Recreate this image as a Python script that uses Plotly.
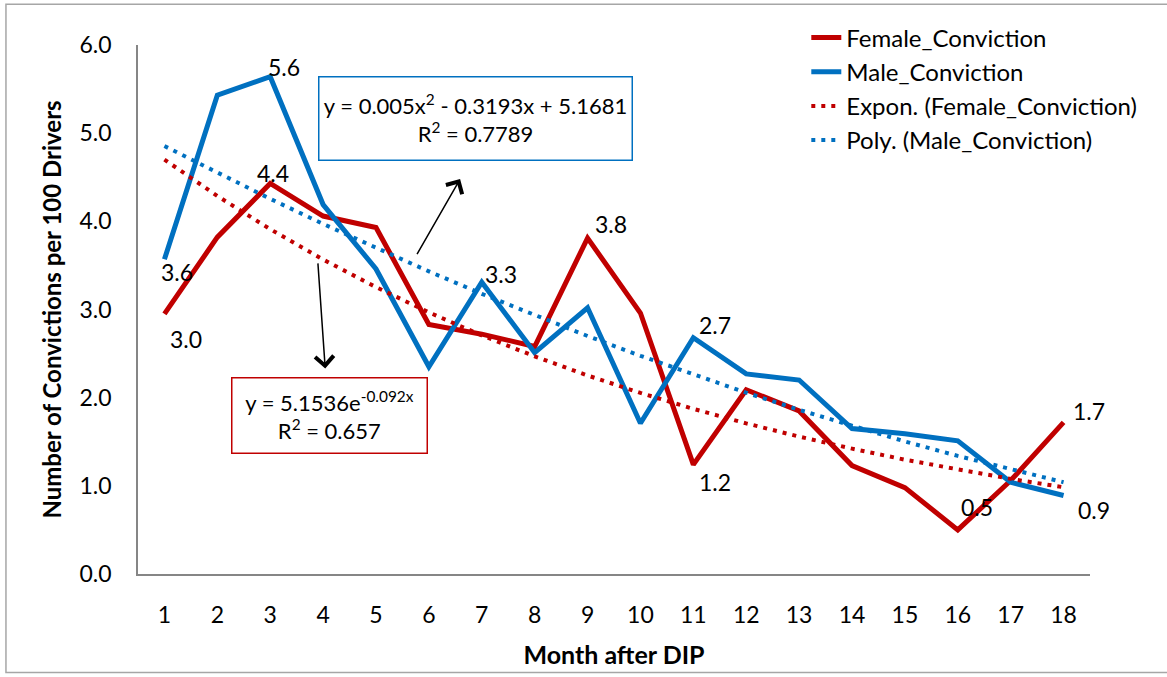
import numpy as np
import plotly.graph_objects as go

# ---- data ----
months = list(range(1, 19))
female_conviction = [2.95, 3.82, 4.43, 4.06, 3.93, 2.83, 2.72, 2.58, 3.81, 2.96,
                     1.24, 2.09, 1.85, 1.23, 0.98, 0.50, 1.06, 1.72]
male_conviction = [3.57, 5.43, 5.64, 4.19, 3.46, 2.35, 3.31, 2.51, 3.02, 1.71,
                   2.68, 2.27, 2.20, 1.65, 1.59, 1.51, 1.04, 0.89]

# trendline coefficients shown on the chart
exp_a, exp_b = 5.1536, -0.092
exp_r2 = 0.657
poly_c2, poly_c1, poly_c0 = 0.005, -0.3193, 5.1681
poly_r2 = 0.7789

y_ticks = [0, 1, 2, 3, 4, 5, 6]

RED = "#C00000"
BLUE = "#0070C0"
FONT = "Lato"

mx = np.array(months, dtype=float)
exp_trend = exp_a * np.exp(exp_b * mx)
poly_trend = poly_c2 * mx ** 2 + poly_c1 * mx + poly_c0

fig = go.Figure()
fig.add_trace(go.Scatter(x=months, y=female_conviction, mode="lines",
                         name="Female_Conviction",
                         line=dict(color=RED, width=5)))
fig.add_trace(go.Scatter(x=months, y=male_conviction, mode="lines",
                         name="Male_Conviction",
                         line=dict(color=BLUE, width=5)))
fig.add_trace(go.Scatter(x=months, y=exp_trend, mode="lines",
                         name="Expon. (Female_Conviction)",
                         line=dict(color=RED, width=4, dash="4px,6px")))
fig.add_trace(go.Scatter(x=months, y=poly_trend, mode="lines",
                         name="Poly. (Male_Conviction)",
                         line=dict(color=BLUE, width=4, dash="4px,6px")))

# data labels: (series, month, xshift, yshift)
label_specs = [
    (female_conviction, 1, 22, -25),
    (male_conviction, 1, 13, -13),
    (male_conviction, 3, 14, 10),
    (female_conviction, 3, 3, 10),
    (male_conviction, 7, 19, 8),
    (female_conviction, 9, 23, 14),
    (male_conviction, 11, 22, 13),
    (female_conviction, 11, 22, -17),
    (female_conviction, 16, 19, 23),
    (female_conviction, 18, 25, 11),
    (male_conviction, 18, 30, -14),
]
annotations = []
for series, m, dx, dy in label_specs:
    v = series[m - 1]
    annotations.append(dict(x=m, y=v, xref="x", yref="y", text=f"{v:.1f}",
                            showarrow=False, xshift=dx, yshift=dy,
                            font=dict(family=FONT, size=23, color="black")))

# equation boxes
annotations.append(dict(
    x=6.88, y=5.17, xref="x", yref="y", showarrow=False,
    text=(f"y = {poly_c2:g}x<sup>2</sup> - {abs(poly_c1):g}x + {poly_c0:g}"
          f"<br>R<sup>2</sup> = {poly_r2:g}"),
    font=dict(family=FONT, size=22, color="black"),
    bordercolor=BLUE, borderwidth=1.5, bgcolor="white",
    width=310, height=80, align="center"))
annotations.append(dict(
    x=4.13, y=1.80, xref="x", yref="y", showarrow=False,
    text=f"y = {exp_a:g}e<sup>{exp_b:g}x</sup><br>R<sup>2</sup> = {exp_r2:g}",
    font=dict(family=FONT, size=22, color="black"),
    bordercolor=RED, borderwidth=1.5, bgcolor="white",
    width=192, height=72, align="center"))

# arrows
annotations.append(dict(x=6.59, y=4.48, xref="x", yref="y",
                        ax=5.76, ay=3.61, axref="x", ayref="y",
                        showarrow=True, arrowhead=4, arrowsize=2.4,
                        arrowwidth=1.5, arrowcolor="black", text=""))
annotations.append(dict(x=4.04, y=2.33, xref="x", yref="y",
                        ax=3.90, ay=3.54, axref="x", ayref="y",
                        showarrow=True, arrowhead=4, arrowsize=2.4,
                        arrowwidth=1.5, arrowcolor="black", text=""))

fig.update_layout(
    width=1167, height=677,
    margin=dict(l=138, r=77, t=45, b=100),
    paper_bgcolor="white", plot_bgcolor="white",
    font=dict(family=FONT, size=23, color="black"),
    showlegend=True,
    legend=dict(x=0.702, y=1.056, xanchor="left", yanchor="top",
                font=dict(family=FONT, size=24, color="black"),
                bgcolor="rgba(0,0,0,0)", tracegroupgap=0),
    annotations=annotations,
    shapes=[dict(type="rect", xref="paper", yref="paper",
                 x0=-0.1387, x1=1.09, y0=-0.186, y1=1.077,
                 line=dict(color="#A6A6A6", width=1.5), layer="below")],
)
fig.update_xaxes(range=[0.5, 18.5], tickvals=months, ticktext=[str(m) for m in months],
                 showline=True, linecolor="#868686", linewidth=1.5,
                 showgrid=False, zeroline=False, ticks="",
                 ticklabelstandoff=20,
                 tickfont=dict(family=FONT, size=23),
                 title=dict(text="<b>Month after DIP</b>", standoff=19,
                            font=dict(family=FONT, size=25)))
fig.update_yaxes(range=[0, 6], tickvals=y_ticks, tickformat=".1f",
                 showline=True, linecolor="#868686", linewidth=1.5,
                 showgrid=False, zeroline=False, ticks="",
                 ticklabelstandoff=20,
                 tickfont=dict(family=FONT, size=23),
                 title=dict(text="<b>Number of Convictions per 100 Drivers</b>",
                            standoff=11, font=dict(family=FONT, size=24)))

fig.write_html("out.html",
               config={"displayModeBar": False},
               post_script="document.body.style.margin='0';"
                           "document.body.style.overflow='hidden';")
